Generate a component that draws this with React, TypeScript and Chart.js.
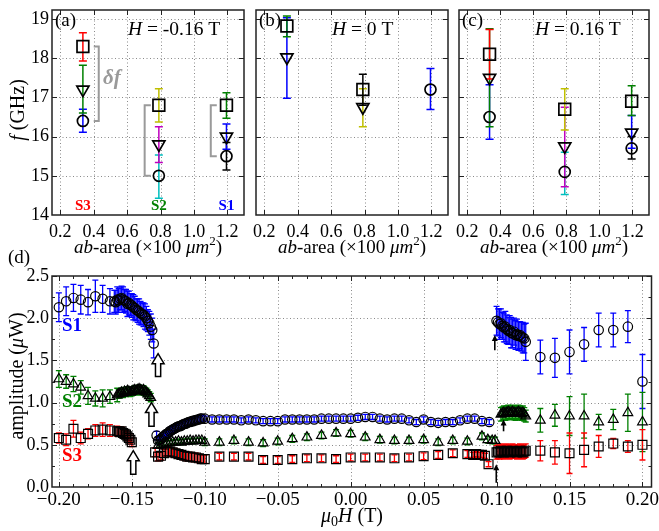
import React, { useEffect, useRef } from 'react';
import { Chart, registerables } from 'chart.js';

Chart.register(...registerables);

const W = 659;
const H = 531;
const SERIF = '"Liberation Serif", "Times New Roman", Times, serif';

const RED = '#ff0000';
const GREEN = '#008000';
const BLUE = '#0000ff';
const YELLOW = '#bfbf00';
const MAGENTA = '#bf00bf';
const CYAN = '#00bfbf';
const BLACK = '#000000';
const GREY = '#9a9a9a';

// ---------------- panels (a)-(c): f vs ab-area ----------------
const abArea = [0.335, 0.79, 1.195];
const sampleNames = ['S3', 'S2', 'S1'];
const sampleColors = [RED, GREEN, BLUE];
const topXTicks = [0.2, 0.4, 0.6, 0.8, 1.0, 1.2];
const topYTicks = [14, 15, 16, 17, 18, 19];

// (a) H = -0.16 T
const aSquare = [18.3, 16.8, 16.8];
const aSquareLo = [17.93, 16.37, 16.47];
const aSquareHi = [18.65, 17.22, 17.12];
const aTriangle = [17.2, 15.8, 16.0];
const aTriangleLo = [16.6, 15.34, 15.68];
const aTriangleHi = [17.82, 16.25, 16.32];
const aCircle = [16.4, 15.0, 15.5];
const aCircleLo = [16.11, 14.43, 15.15];
const aCircleHi = [16.7, 15.53, 15.85];

// (b) H = 0 T
const bSquare = [18.82, 17.2, null];
const bSquareLo = [18.55, 16.8, null];
const bSquareHi = [19.08, 17.59, null];
const bTriangle = [18.02, 16.75, null];
const bTriangleLo = [16.98, 16.25, null];
const bTriangleHi = [19.03, 17.22, null];
const bCircle = [null, null, 17.2];
const bCircleLo = [null, null, 16.69];
const bCircleHi = [null, null, 17.74];

// (c) H = 0.16 T
const cSquare = [18.1, 16.7, 16.9];
const cSquareLo = [17.47, 16.17, 16.54];
const cSquareHi = [18.73, 17.22, 17.3];
const cTriangle = [17.5, 15.75, 16.1];
const cTriangleLo = [16.25, 14.72, 15.7];
const cTriangleHi = [18.75, 16.75, 16.54];
const cCircle = [16.5, 15.1, 15.7];
const cCircleLo = [15.93, 14.52, 15.43];
const cCircleHi = [17.32, 15.6, 16.0];

// delta-f brackets in (a)
const bracketX = [0.43, 0.705, 1.101];
const bracketEndX = [0.4, 0.742, 1.137];
const bracketTop = [18.3, 16.8, 16.8];
const bracketBottom = [16.4, 15.0, 15.5];

// ---------------- panel (d): amplitude vs mu0 H ----------------
const dXTicks = [-0.2, -0.15, -0.1, -0.05, 0, 0.05, 0.1, 0.15, 0.2];
const dYTicks = [0, 0.5, 1.0, 1.5, 2.0, 2.5];

const s1Field = [
  -0.200, -0.195, -0.190, -0.185, -0.180, -0.175, -0.170, -0.165,
  -0.162, -0.161, -0.160, -0.159, -0.158, -0.157, -0.156, -0.155, -0.154, -0.153, -0.152, -0.151, -0.150, -0.149,
  -0.148, -0.147, -0.146, -0.145, -0.144, -0.143, -0.142, -0.141, -0.140, -0.139, -0.138, -0.137, -0.136, -0.135,
  -0.133, -0.132, -0.131, -0.130, -0.129, -0.128, -0.127, -0.126, -0.125, -0.124, -0.123, -0.122, -0.121, -0.120,
  -0.119, -0.118, -0.117, -0.116, -0.115, -0.114, -0.113, -0.112, -0.111, -0.110, -0.109, -0.108, -0.107, -0.106,
  -0.105, -0.104, -0.103, -0.102,
  -0.100, -0.095, -0.090, -0.085, -0.080, -0.075, -0.070, -0.065, -0.060, -0.055, -0.050, -0.045, -0.040, -0.035,
  -0.030, -0.025, -0.020, -0.015, -0.010, -0.005, 0.000, 0.005, 0.010, 0.015, 0.020, 0.025, 0.030, 0.035, 0.040,
  0.045, 0.050, 0.055, 0.060, 0.065, 0.070, 0.075, 0.080, 0.085, 0.090, 0.095,
  0.100, 0.101, 0.102, 0.103, 0.104, 0.105, 0.106, 0.107, 0.108, 0.109, 0.110, 0.111, 0.112, 0.113, 0.114, 0.115,
  0.116, 0.117, 0.118, 0.119,
  0.12, 0.13, 0.14, 0.15, 0.16, 0.17, 0.18, 0.19, 0.20,
];
const s1Amp = [
  2.13, 2.20, 2.24, 2.22, 2.19, 2.26, 2.23, 2.20,
  2.20, 2.19, 2.22, 2.21, 2.23, 2.24, 2.22, 2.21, 2.20, 2.17, 2.18, 2.16, 2.15, 2.13,
  2.12, 2.10, 2.09, 2.08, 2.06, 2.05, 2.04, 2.02, 2.00, 1.97, 1.94, 1.90, 1.86, 1.70,
  0.61, 0.55, 0.56, 0.57, 0.59, 0.60, 0.62, 0.63, 0.64, 0.66, 0.67, 0.68, 0.69, 0.70,
  0.71, 0.72, 0.72, 0.73, 0.74, 0.75, 0.75, 0.76, 0.77, 0.77, 0.78, 0.78, 0.79, 0.79,
  0.80, 0.80, 0.81, 0.81,
  0.81, 0.80, 0.80, 0.80, 0.80, 0.79, 0.80, 0.79, 0.78, 0.78, 0.78, 0.80, 0.80, 0.80,
  0.80, 0.80, 0.81, 0.81, 0.81, 0.81, 0.81, 0.82, 0.83, 0.83, 0.81, 0.80, 0.81, 0.81, 0.79,
  0.77, 0.80, 0.77, 0.76, 0.77, 0.77, 0.79, 0.81, 0.81, 0.78, 0.77,
  1.97, 1.95, 1.93, 1.94, 1.91, 1.89, 1.90, 1.87, 1.85, 1.86, 1.83, 1.82, 1.84, 1.80, 1.81, 1.79,
  1.80, 1.78, 1.77, 1.76,
  1.72, 1.54, 1.53, 1.60, 1.69, 1.86, 1.86, 1.90, 1.25,
];
const s1Err = [
  0.17, 0.17, 0.16, 0.17, 0.15, 0.19, 0.16, 0.15,
  0.13, 0.14, 0.15, 0.14, 0.13, 0.14, 0.15, 0.13, 0.14, 0.15, 0.14, 0.13, 0.14, 0.15,
  0.14, 0.13, 0.14, 0.15, 0.14, 0.13, 0.14, 0.15, 0.14, 0.13, 0.14, 0.15, 0.14, 0.17,
  0.05, 0.04, 0.04, 0.04, 0.04, 0.04, 0.04, 0.04, 0.04, 0.04, 0.04, 0.04, 0.04, 0.04,
  0.04, 0.04, 0.04, 0.04, 0.04, 0.04, 0.04, 0.04, 0.04, 0.04, 0.04, 0.04, 0.04, 0.04,
  0.04, 0.04, 0.04, 0.04,
  0.03, 0.03, 0.03, 0.03, 0.03, 0.03, 0.03, 0.03, 0.03, 0.03, 0.03, 0.03, 0.03, 0.03,
  0.03, 0.03, 0.03, 0.03, 0.03, 0.03, 0.03, 0.03, 0.03, 0.03, 0.03, 0.03, 0.03, 0.03, 0.03,
  0.03, 0.03, 0.03, 0.03, 0.03, 0.03, 0.03, 0.03, 0.03, 0.03, 0.03,
  0.17, 0.16, 0.18, 0.17, 0.16, 0.17, 0.18, 0.17, 0.16, 0.17, 0.18, 0.17, 0.16, 0.17, 0.18, 0.17,
  0.16, 0.17, 0.18, 0.17,
  0.22, 0.20, 0.23, 0.26, 0.20, 0.20, 0.20, 0.19, 0.32,
];

const s2Field = [
  -0.200, -0.195, -0.190, -0.185, -0.180, -0.175, -0.170, -0.165, -0.160,
  -0.159, -0.158, -0.157, -0.156, -0.155, -0.154, -0.153, -0.152, -0.151, -0.150, -0.149, -0.148,
  -0.147, -0.146, -0.145, -0.144, -0.143, -0.142, -0.141, -0.140, -0.139, -0.138, -0.137,
  -0.132, -0.130, -0.128, -0.126, -0.124, -0.122, -0.120, -0.118, -0.116, -0.114, -0.112, -0.110,
  -0.108, -0.106, -0.104, -0.102,
  -0.10, -0.09, -0.08, -0.07, -0.06, -0.05, -0.04, -0.03, -0.02, -0.01, 0.00, 0.01, 0.02, 0.03,
  0.04, 0.05, 0.06, 0.07, 0.08, 0.09, 0.094, 0.097, 0.099,
  0.103, 0.104, 0.105, 0.106, 0.107, 0.108, 0.109, 0.110, 0.111, 0.112, 0.113, 0.114, 0.115, 0.116,
  0.117, 0.118, 0.119,
  0.12, 0.13, 0.14, 0.15, 0.16, 0.17, 0.18, 0.19, 0.20,
];
const s2Amp = [
  1.28, 1.25, 1.22, 1.18, 1.08, 1.05, 1.05, 1.07, 1.09,
  1.10, 1.11, 1.12, 1.11, 1.13, 1.12, 1.14, 1.13, 1.12, 1.13, 1.14, 1.15,
  1.14, 1.15, 1.16, 1.15, 1.14, 1.15, 1.13, 1.12, 1.10, 1.08, 1.06,
  0.49, 0.50, 0.51, 0.52, 0.52, 0.53, 0.53, 0.54, 0.53, 0.54, 0.54, 0.55,
  0.54, 0.55, 0.55, 0.55,
  0.53, 0.53, 0.55, 0.53, 0.52, 0.54, 0.57, 0.59, 0.61, 0.64, 0.63, 0.59, 0.56, 0.55,
  0.55, 0.56, 0.53, 0.55, 0.54, 0.60, 0.56, 0.55, 0.55,
  0.86, 0.87, 0.88, 0.87, 0.88, 0.89, 0.88, 0.88, 0.89, 0.88, 0.87, 0.88, 0.89, 0.88,
  0.87, 0.88, 0.86,
  0.84, 0.79, 0.85, 0.84, 0.84, 0.77, 0.80, 0.88, 0.77,
];
const s2Err = [
  0.10, 0.08, 0.09, 0.08, 0.10, 0.09, 0.10, 0.08, 0.08,
  0.05, 0.05, 0.05, 0.05, 0.05, 0.05, 0.05, 0.05, 0.05, 0.05, 0.05, 0.05,
  0.05, 0.05, 0.05, 0.05, 0.05, 0.05, 0.05, 0.05, 0.05, 0.05, 0.05,
  0.03, 0.03, 0.03, 0.03, 0.03, 0.03, 0.03, 0.03, 0.03, 0.03, 0.03, 0.03,
  0.03, 0.03, 0.03, 0.03,
  0.04, 0.04, 0.04, 0.04, 0.04, 0.04, 0.04, 0.04, 0.04, 0.04, 0.04, 0.04, 0.04, 0.04,
  0.04, 0.04, 0.04, 0.04, 0.04, 0.04, 0.04, 0.04, 0.04,
  0.08, 0.08, 0.08, 0.08, 0.08, 0.08, 0.08, 0.08, 0.08, 0.08, 0.08, 0.08, 0.08, 0.08,
  0.08, 0.08, 0.08,
  0.07, 0.14, 0.13, 0.23, 0.26, 0.09, 0.12, 0.22, 0.35,
];

const s3Field = [
  -0.200, -0.195, -0.190, -0.185, -0.180, -0.175, -0.170, -0.165, -0.160,
  -0.159, -0.158, -0.157, -0.156, -0.155, -0.154, -0.153, -0.152, -0.151, -0.150,
  -0.134, -0.132, -0.130, -0.128, -0.126, -0.124, -0.122, -0.120, -0.118, -0.116, -0.114, -0.112,
  -0.110, -0.108, -0.106, -0.104, -0.102, -0.100,
  -0.09, -0.08, -0.07, -0.06, -0.05, -0.04, -0.03, -0.02, -0.01, 0.00, 0.01, 0.02, 0.03, 0.04,
  0.05, 0.06, 0.07, 0.08,
  0.084, 0.086, 0.088, 0.090, 0.092, 0.0945,
  0.100, 0.101, 0.102, 0.103, 0.104, 0.105, 0.106, 0.107, 0.108, 0.109, 0.110, 0.111, 0.112, 0.113,
  0.114, 0.115, 0.116, 0.117, 0.118, 0.119, 0.120,
  0.13, 0.14, 0.15, 0.16, 0.17, 0.18, 0.19, 0.20,
];
const s3Amp = [
  0.58, 0.56, 0.69, 0.58, 0.63, 0.67, 0.68, 0.67, 0.66,
  0.66, 0.65, 0.66, 0.64, 0.63, 0.62, 0.60, 0.58, 0.56, 0.53,
  0.41, 0.36, 0.37, 0.40, 0.42, 0.42, 0.41, 0.40, 0.39, 0.38, 0.37, 0.36,
  0.36, 0.35, 0.35, 0.34, 0.33, 0.33,
  0.36, 0.36, 0.36, 0.32, 0.32, 0.33, 0.34, 0.34, 0.33, 0.35, 0.35, 0.35, 0.34, 0.35,
  0.365, 0.38, 0.40, 0.39,
  0.38, 0.39, 0.38, 0.38, 0.37, 0.27,
  0.41, 0.42, 0.41, 0.43, 0.42, 0.41, 0.42, 0.43, 0.42, 0.41, 0.42, 0.43, 0.42, 0.42,
  0.41, 0.42, 0.43, 0.42, 0.41, 0.42, 0.43,
  0.43, 0.41, 0.40, 0.44, 0.48, 0.515, 0.48, 0.50,
];
const s3Err = [
  0.06, 0.07, 0.10, 0.07, 0.06, 0.07, 0.08, 0.07, 0.06,
  0.05, 0.05, 0.05, 0.05, 0.05, 0.05, 0.05, 0.05, 0.05, 0.05,
  0.05, 0.05, 0.05, 0.05, 0.05, 0.05, 0.05, 0.05, 0.05, 0.05, 0.05, 0.05,
  0.05, 0.05, 0.05, 0.05, 0.05, 0.05,
  0.04, 0.04, 0.04, 0.04, 0.04, 0.04, 0.04, 0.04, 0.04, 0.04, 0.04, 0.04, 0.04, 0.04,
  0.04, 0.04, 0.04, 0.04,
  0.03, 0.03, 0.03, 0.03, 0.03, 0.03,
  0.08, 0.08, 0.08, 0.08, 0.08, 0.08, 0.08, 0.08, 0.08, 0.08, 0.08, 0.08, 0.08, 0.08,
  0.08, 0.08, 0.08, 0.08, 0.08, 0.08, 0.08,
  0.12, 0.14, 0.24, 0.20, 0.13, 0.06, 0.07, 0.18,
];

// arrows in (d)
const bigArrowField = [-0.132, -0.1365, -0.149];
const bigArrowTip = [1.58, 1.0, 0.43];
const bigArrowTail = [1.31, 0.72, 0.15];
const thinArrowField = [0.0988, 0.1048, 0.0998];
const thinArrowTip = [1.8, 0.8, 0.27];
const thinArrowTail = [1.62, 0.66, 0.05];

// ---------------- drawing helpers ----------------
type Part = { t: string; it?: boolean; b?: boolean; sup?: boolean; sub?: boolean; color?: string };

function drawRich(
  ctx: CanvasRenderingContext2D, parts: Part[], x: number, y: number, size: number,
  align: 'left' | 'center' = 'left', rotate = false, color = '#000'
) {
  const fontOf = (p: Part) =>
    `${p.it ? 'italic ' : ''}${p.b ? 'bold ' : ''}${p.sup || p.sub ? Math.round(size * 0.68) : size}px ${SERIF}`;
  ctx.save();
  let total = 0;
  const widths = parts.map((p) => {
    ctx.font = fontOf(p);
    const w = ctx.measureText(p.t).width;
    total += w;
    return w;
  });
  ctx.translate(x, y);
  if (rotate) ctx.rotate(-Math.PI / 2);
  let cx = align === 'center' ? -total / 2 : 0;
  ctx.textBaseline = 'alphabetic';
  ctx.textAlign = 'left';
  parts.forEach((p, i) => {
    ctx.font = fontOf(p);
    ctx.fillStyle = p.color || color;
    const dy = p.sup ? -size * 0.42 : p.sub ? size * 0.22 : 0;
    ctx.fillText(p.t, cx, dy);
    cx += widths[i];
  });
  ctx.restore();
}

function drawGrid(chart: any) {
  const { ctx, chartArea: a } = chart;
  const x = chart.scales.x;
  const y = chart.scales.y;
  ctx.save();
  ctx.strokeStyle = '#8a8a8a';
  ctx.lineWidth = 1;
  ctx.setLineDash([1, 2.5]);
  x.ticks.forEach((t: any) => {
    const px = Math.round(x.getPixelForValue(t.value)) + 0.5;
    if (px <= a.left + 2 || px >= a.right - 2) return;
    ctx.beginPath();
    ctx.moveTo(px, a.top);
    ctx.lineTo(px, a.bottom);
    ctx.stroke();
  });
  y.ticks.forEach((t: any) => {
    const py = Math.round(y.getPixelForValue(t.value)) + 0.5;
    if (py <= a.top + 2 || py >= a.bottom - 2) return;
    ctx.beginPath();
    ctx.moveTo(a.left, py);
    ctx.lineTo(a.right, py);
    ctx.stroke();
  });
  ctx.restore();
}

function drawFrame(chart: any, xMinor: number[], yMinor: number[]) {
  const { ctx, chartArea: a } = chart;
  const x = chart.scales.x;
  const y = chart.scales.y;
  ctx.save();
  ctx.strokeStyle = '#222';
  ctx.setLineDash([]);
  ctx.lineWidth = 1;
  const tick = (vals: number[], len: number) => {
    vals.forEach((v) => {
      const px = Math.round(x.getPixelForValue(v)) + 0.5;
      if (px < a.left || px > a.right) return;
      ctx.beginPath();
      ctx.moveTo(px, a.bottom);
      ctx.lineTo(px, a.bottom - len);
      ctx.moveTo(px, a.top);
      ctx.lineTo(px, a.top + len);
      ctx.stroke();
    });
  };
  const tickY = (vals: number[], len: number) => {
    vals.forEach((v) => {
      const py = Math.round(y.getPixelForValue(v)) + 0.5;
      if (py < a.top || py > a.bottom) return;
      ctx.beginPath();
      ctx.moveTo(a.left, py);
      ctx.lineTo(a.left + len, py);
      ctx.moveTo(a.right, py);
      ctx.lineTo(a.right - len, py);
      ctx.stroke();
    });
  };
  tick(x.ticks.map((t: any) => t.value), 5);
  tick(xMinor, 3);
  tickY(y.ticks.map((t: any) => t.value), 5);
  tickY(yMinor, 3);
  ctx.lineWidth = 1.5;
  ctx.strokeRect(a.left, a.top, a.right - a.left, a.bottom - a.top);
  ctx.restore();
}

function drawErrorBars(chart: any, cap: number, width: number) {
  const { ctx, chartArea: a } = chart;
  const x = chart.scales.x;
  const y = chart.scales.y;
  ctx.save();
  ctx.beginPath();
  ctx.rect(a.left, a.top, a.right - a.left, a.bottom - a.top);
  ctx.clip();
  ctx.lineWidth = width;
  ctx.setLineDash([]);
  chart.data.datasets.forEach((ds: any) => {
    if (!ds.errLo) return;
    ds.data.forEach((p: any, i: number) => {
      if (!p || p.y == null || ds.errLo[i] == null) return;
      const px = x.getPixelForValue(p.x);
      const lo = y.getPixelForValue(ds.errLo[i]);
      const hi = y.getPixelForValue(ds.errHi[i]);
      ctx.strokeStyle = Array.isArray(ds.errColor) ? ds.errColor[i] : ds.errColor;
      ctx.beginPath();
      ctx.moveTo(px, lo);
      ctx.lineTo(px, hi);
      ctx.moveTo(px - cap, lo);
      ctx.lineTo(px + cap, lo);
      ctx.moveTo(px - cap, hi);
      ctx.lineTo(px + cap, hi);
      ctx.stroke();
    });
  });
  ctx.restore();
}

// ---------------- chart configs ----------------
const TOP_T = 5;
const TOP_B = 215;
const YW = 40;
const XH = 40;

interface TopPanel {
  left: number; right: number; showY: boolean; tag: string; field: string; brackets: boolean;
  sq: (number | null)[]; sqLo: (number | null)[]; sqHi: (number | null)[]; sqCol: string[];
  tri: (number | null)[]; triLo: (number | null)[]; triHi: (number | null)[]; triCol: string[];
  cir: (number | null)[]; cirLo: (number | null)[]; cirHi: (number | null)[]; cirCol: string[];
}

const panels: TopPanel[] = [
  {
    left: 52, right: 244, showY: true, tag: '(a)', field: '-0.16 T', brackets: true,
    sq: aSquare, sqLo: aSquareLo, sqHi: aSquareHi, sqCol: [RED, YELLOW, GREEN],
    tri: aTriangle, triLo: aTriangleLo, triHi: aTriangleHi, triCol: [GREEN, MAGENTA, BLUE],
    cir: aCircle, cirLo: aCircleLo, cirHi: aCircleHi, cirCol: [BLUE, CYAN, BLACK],
  },
  {
    left: 256, right: 448, showY: false, tag: '(b)', field: '0 T', brackets: false,
    sq: bSquare, sqLo: bSquareLo, sqHi: bSquareHi, sqCol: [GREEN, BLACK, BLACK],
    tri: bTriangle, triLo: bTriangleLo, triHi: bTriangleHi, triCol: [BLUE, YELLOW, BLACK],
    cir: bCircle, cirLo: bCircleLo, cirHi: bCircleHi, cirCol: [BLACK, BLACK, BLUE],
  },
  {
    left: 459, right: 652, showY: false, tag: '(c)', field: '0.16 T', brackets: false,
    sq: cSquare, sqLo: cSquareLo, sqHi: cSquareHi, sqCol: [RED, YELLOW, GREEN],
    tri: cTriangle, triLo: cTriangleLo, triHi: cTriangleHi, triCol: [GREEN, MAGENTA, BLUE],
    cir: cCircle, cirLo: cCircleLo, cirHi: cCircleHi, cirCol: [BLUE, CYAN, BLACK],
  },
];

function markerSet(vals: any[], lo: any[], hi: any[], cols: string[], style: string, r: number, rot: number, bw: number) {
  return {
    type: 'scatter',
    data: abArea.map((a, i) => ({ x: a, y: vals[i] })),
    errLo: lo, errHi: hi, errColor: cols,
    pointStyle: style, pointRadius: r, pointHoverRadius: r, pointRotation: rot,
    borderColor: BLACK, backgroundColor: 'rgba(0,0,0,0)', borderWidth: bw, showLine: false,
  };
}

function topConfig(p: TopPanel): any {
  const datasets: any[] = [
    markerSet(p.cir, p.cirLo, p.cirHi, p.cirCol, 'circle', 5.5, 0, 1.7),
    markerSet(p.tri, p.triLo, p.triHi, p.triCol, 'triangle', 7, 180, 1.7),
    markerSet(p.sq, p.sqLo, p.sqHi, p.sqCol, 'rect', 8.3, 0, 1.7),
  ];
  if (p.brackets) {
    bracketX.forEach((bx, i) => {
      datasets.push({
        type: 'scatter', showLine: true, fill: false, tension: 0,
        data: [
          { x: bracketEndX[i], y: bracketTop[i] }, { x: bx, y: bracketTop[i] },
          { x: bx, y: bracketBottom[i] }, { x: bracketEndX[i], y: bracketBottom[i] },
        ],
        borderColor: GREY, borderWidth: 2, pointRadius: 0, pointHoverRadius: 0,
      });
    });
  }
  const yw = p.showY ? YW : 10;
  return {
    type: 'scatter',
    data: { datasets },
    options: {
      responsive: false, animation: false, devicePixelRatio: 1, events: [],
      layout: { padding: { left: p.left - yw, right: W - p.right, top: TOP_T, bottom: H - TOP_B - XH } },
      plugins: { legend: { display: false }, tooltip: { enabled: false } },
      scales: {
        x: {
          type: 'linear', min: 0.15, max: 1.3,
          grid: { display: false, drawTicks: false }, border: { display: false },
          afterBuildTicks: (s: any) => { s.ticks = topXTicks.map((v) => ({ value: v })); },
          afterFit: (s: any) => { s.height = XH; s.paddingLeft = 0; s.paddingRight = 0; },
          ticks: {
            font: { family: SERIF, size: 18 }, color: '#000', padding: 6, maxRotation: 0, autoSkip: false,
            callback: (v: any) => Number(v).toFixed(1),
          },
        },
        y: {
          type: 'linear', min: 14, max: 19.23,
          grid: { display: false, drawTicks: false }, border: { display: false },
          afterBuildTicks: (s: any) => { s.ticks = topYTicks.map((v) => ({ value: v })); },
          afterFit: (s: any) => { s.width = yw; s.paddingTop = 0; s.paddingBottom = 0; },
          ticks: {
            display: p.showY, font: { family: SERIF, size: 18 }, color: '#000', padding: 3, autoSkip: false,
            callback: (v: any) => String(v),
          },
        },
      },
    },
    plugins: [
      {
        id: 'topDecor',
        beforeDatasetsDraw(chart: any) {
          drawGrid(chart);
          drawErrorBars(chart, 4, 1.5);
        },
        afterDatasetsDraw(chart: any) {
          drawFrame(chart, [], []);
        },
        afterDraw(chart: any) {
          const ctx = chart.ctx;
          const a = chart.chartArea;
          const x = chart.scales.x;
          drawRich(ctx, [{ t: p.tag }], a.left + 3, 26, 19);
          drawRich(ctx, [{ t: 'H', it: true }, { t: ' = ' + p.field }], a.left + 76, 34.5, 19.5);
          if (p.tag === '(a)') {
            abArea.forEach((v, i) => {
              drawRich(ctx, [{ t: sampleNames[i], b: true, color: sampleColors[i] }], x.getPixelForValue(v), 210, 15, 'center');
            });
          }
          if (p.brackets) {
            drawRich(ctx, [{ t: 'δf', it: true, b: true, color: GREY }], 103, 84, 21);
          }
          drawRich(
            ctx,
            [{ t: 'ab', it: true }, { t: '-area (×100 ' }, { t: 'μm', it: true }, { t: '2', sup: true }, { t: ')' }],
            (a.left + a.right) / 2, 253, 19, 'center'
          );
          if (p.showY) {
            drawRich(ctx, [{ t: 'f', it: true }, { t: ' (GHz)' }], 24, 110, 20, 'center', true);
          }
        },
      },
    ],
  };
}

function ampSeries(hs: number[], as: number[], es: number[], style: string, r: number, col: string) {
  return {
    type: 'scatter',
    data: hs.map((h, i) => ({ x: h, y: as[i] })),
    errLo: as.map((v, i) => v - es[i]),
    errHi: as.map((v, i) => v + es[i]),
    errColor: col,
    pointStyle: style, pointRadius: r, pointHoverRadius: r,
    borderColor: BLACK, backgroundColor: 'rgba(0,0,0,0)', borderWidth: 1.2, showLine: false,
  };
}

const D_T = 276;
const D_B = 487;
const D_L = 52;
const D_R = 652;

function fmtField(v: number) {
  if (Math.abs(v) < 1e-9) return '0.00';
  const s = Math.abs(v).toFixed(2);
  return v < 0 ? '\u2212' + s : s;
}

function bottomConfig(): any {
  const xMinor: number[] = [];
  for (let k = -20; k <= 20; k++) xMinor.push(k / 100);
  const yMinor = [0.25, 0.75, 1.25, 1.75, 2.25];
  return {
    type: 'scatter',
    data: {
      datasets: [
        ampSeries(s1Field, s1Amp, s1Err, 'circle', 4.7, BLUE),
        ampSeries(s2Field, s2Amp, s2Err, 'triangle', 5.6, GREEN),
        ampSeries(s3Field, s3Amp, s3Err, 'rect', 6.3, RED),
      ],
    },
    options: {
      responsive: false, animation: false, devicePixelRatio: 1, events: [],
      layout: { padding: { left: D_L - YW, right: W - D_R, top: D_T, bottom: H - D_B - XH } },
      plugins: { legend: { display: false }, tooltip: { enabled: false } },
      scales: {
        x: {
          type: 'linear', min: -0.2047, max: 0.2062,
          grid: { display: false, drawTicks: false }, border: { display: false },
          afterBuildTicks: (s: any) => { s.ticks = dXTicks.map((v) => ({ value: v })); },
          afterFit: (s: any) => { s.height = XH; s.paddingLeft = 0; s.paddingRight = 0; },
          ticks: {
            font: { family: SERIF, size: 19 }, color: '#000', padding: 2, maxRotation: 0, autoSkip: false,
            callback: (v: any) => fmtField(Number(v)),
          },
        },
        y: {
          type: 'linear', min: 0, max: 2.5,
          grid: { display: false, drawTicks: false }, border: { display: false },
          afterBuildTicks: (s: any) => { s.ticks = dYTicks.map((v) => ({ value: v })); },
          afterFit: (s: any) => { s.width = YW; s.paddingTop = 0; s.paddingBottom = 0; },
          ticks: {
            font: { family: SERIF, size: 18 }, color: '#000', padding: 3, autoSkip: false,
            callback: (v: any) => Number(v).toFixed(1),
          },
        },
      },
    },
    plugins: [
      {
        id: 'bottomDecor',
        beforeDatasetsDraw(chart: any) {
          drawGrid(chart);
          drawErrorBars(chart, 3, 1.3);
        },
        afterDatasetsDraw(chart: any) {
          const ctx = chart.ctx;
          const x = chart.scales.x;
          const y = chart.scales.y;
          ctx.save();
          ctx.setLineDash([]);
          bigArrowField.forEach((h, i) => {
            const px = x.getPixelForValue(h);
            const tip = y.getPixelForValue(bigArrowTip[i]);
            const tail = y.getPixelForValue(bigArrowTail[i]);
            const hw = 6, sw = 2.6, hh = 10;
            ctx.beginPath();
            ctx.moveTo(px, tip);
            ctx.lineTo(px + hw, tip + hh);
            ctx.lineTo(px + sw, tip + hh);
            ctx.lineTo(px + sw, tail);
            ctx.lineTo(px - sw, tail);
            ctx.lineTo(px - sw, tip + hh);
            ctx.lineTo(px - hw, tip + hh);
            ctx.closePath();
            ctx.fillStyle = '#fff';
            ctx.fill();
            ctx.strokeStyle = '#000';
            ctx.lineWidth = 1.5;
            ctx.stroke();
          });
          thinArrowField.forEach((h, i) => {
            const px = x.getPixelForValue(h);
            const tip = y.getPixelForValue(thinArrowTip[i]);
            const tail = y.getPixelForValue(thinArrowTail[i]);
            ctx.strokeStyle = '#000';
            ctx.fillStyle = '#000';
            ctx.lineWidth = 1.6;
            ctx.beginPath();
            ctx.moveTo(px, tail);
            ctx.lineTo(px, tip + 4);
            ctx.stroke();
            ctx.beginPath();
            ctx.moveTo(px, tip);
            ctx.lineTo(px + 3, tip + 6);
            ctx.lineTo(px - 3, tip + 6);
            ctx.closePath();
            ctx.fill();
          });
          ctx.restore();
          drawFrame(chart, xMinor, yMinor);
        },
        afterDraw(chart: any) {
          const ctx = chart.ctx;
          drawRich(ctx, [{ t: '(d)' }], 8, 263, 19);
          drawRich(ctx, [{ t: 'S1', b: true, color: BLUE }], 62, 331, 19);
          drawRich(ctx, [{ t: 'S2', b: true, color: GREEN }], 62, 407, 19);
          drawRich(ctx, [{ t: 'S3', b: true, color: RED }], 62, 461, 19);
          drawRich(ctx, [{ t: 'amplitude (' }, { t: 'μ', it: true }, { t: 'W)' }], 23, 376, 20, 'center', true);
          drawRich(ctx, [{ t: 'μ', it: true }, { t: '0', sub: true }, { t: 'H', it: true }, { t: ' (T)' }], (D_L + D_R) / 2, 522, 20, 'center');
        },
      },
    ],
  };
}

export default function App() {
  const r0 = useRef<HTMLCanvasElement>(null);
  const r1 = useRef<HTMLCanvasElement>(null);
  const r2 = useRef<HTMLCanvasElement>(null);
  const r3 = useRef<HTMLCanvasElement>(null);

  useEffect(() => {
    const charts: Chart[] = [];
    const refs = [r0, r1, r2];
    panels.forEach((p, i) => {
      const c = refs[i].current;
      if (c) charts.push(new Chart(c, topConfig(p)));
    });
    if (r3.current) charts.push(new Chart(r3.current, bottomConfig()));
    return () => charts.forEach((c) => c.destroy());
  }, []);

  const cs: React.CSSProperties = { position: 'absolute', left: 0, top: 0, width: W, height: H };
  return (
    <div style={{ position: 'fixed', left: 0, top: 0, width: W, height: H, background: '#fff', overflow: 'hidden' }}>
      <canvas ref={r0} width={W} height={H} style={cs} />
      <canvas ref={r1} width={W} height={H} style={cs} />
      <canvas ref={r2} width={W} height={H} style={cs} />
      <canvas ref={r3} width={W} height={H} style={cs} />
    </div>
  );
}
